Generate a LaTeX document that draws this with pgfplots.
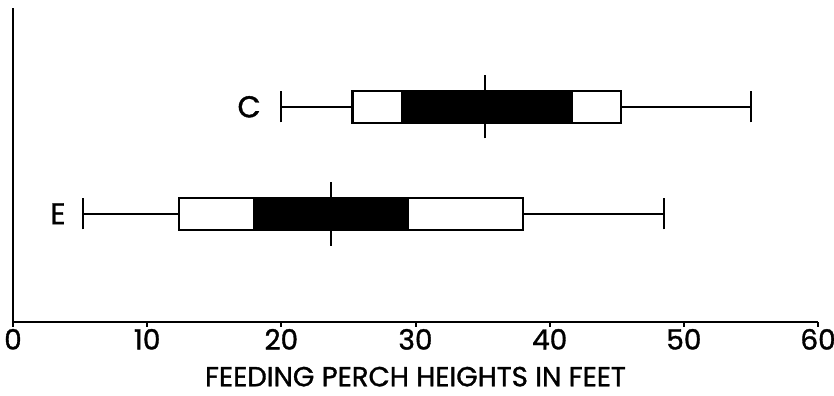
\documentclass[border=0pt]{standalone}
\usepackage{pgfplots}
\pgfplotsset{compat=1.18}
\usepackage{fontspec}
\setmainfont{Poppins}[FakeBold=1.5]
\newfontfamily\lblfont{Poppins}[FakeBold=1.2]
\begin{document}
\begin{tikzpicture}
\begin{axis}[
  name=ax,
  scale only axis,
  width=403pt, height=157pt,
  xmin=0, xmax=60, ymin=0, ymax=10,
  axis x line*=bottom, axis y line*=left,
  axis line style={line width=1pt, -},
  xtick={0,10,...,60},
  ytick=\empty,
  tick align=outside,
  major tick length=2.5pt,
  tick style={line width=1pt, black},
  /pgf/number format/assume math mode=true,
  ticklabel style={font=\lblfont\fontsize{14}{15}\selectfont, inner sep=1pt},
  xlabel={FEEDING PERCH HEIGHTS IN FEET},
  xlabel style={font=\lblfont\fontsize{13.8}{15}\selectfont, yshift=-4pt},
  clip=false,
]
% C series (y center 6.85)
\addplot[black, line width=1.1pt] coordinates {(20,6.85) (25.3,6.85)};
\addplot[black, line width=1.1pt] coordinates {(45.3,6.85) (55,6.85)};
\addplot[black, line width=1.1pt] coordinates {(20,6.35) (20,7.35)};
\addplot[black, line width=1.1pt] coordinates {(55,6.35) (55,7.35)};
\addplot[draw=black, fill=white, line width=1.1pt] coordinates {(25.3,6.34) (45.3,6.34) (45.3,7.36) (25.3,7.36)} -- cycle;
\addplot[draw=black, fill=black, line width=0.6pt] coordinates {(29.0,6.34) (41.7,6.34) (41.7,7.36) (29.0,7.36)} -- cycle;
\addplot[black, line width=1.1pt] coordinates {(35.2,5.84) (35.2,7.86)};
% E series (y center 3.44)
\addplot[black, line width=1.1pt] coordinates {(5.2,3.44) (12.4,3.44)};
\addplot[black, line width=1.1pt] coordinates {(38.0,3.44) (48.5,3.44)};
\addplot[black, line width=1.1pt] coordinates {(5.2,2.94) (5.2,3.94)};
\addplot[black, line width=1.1pt] coordinates {(48.5,2.94) (48.5,3.94)};
\addplot[draw=black, fill=white, line width=1.1pt] coordinates {(12.4,2.93) (38.0,2.93) (38.0,3.95) (12.4,3.95)} -- cycle;
\addplot[draw=black, fill=black, line width=0.6pt] coordinates {(17.9,2.93) (29.5,2.93) (29.5,3.95) (17.9,3.95)} -- cycle;
\addplot[black, line width=1.1pt] coordinates {(23.7,2.42) (23.7,4.46)};
\node[font=\lblfont\fontsize{15}{17}\selectfont] at (axis cs:17.6,6.85) {C};
\node[font=\lblfont\fontsize{15}{17}\selectfont] at (axis cs:3.35,3.44) {E};
\end{axis}
\pgfresetboundingbox
\path[use as bounding box] (ax.south west) ++(-6.5pt,-37pt) rectangle ([xshift=8pt,yshift=4pt]ax.north east);
\end{tikzpicture}
\end{document}
